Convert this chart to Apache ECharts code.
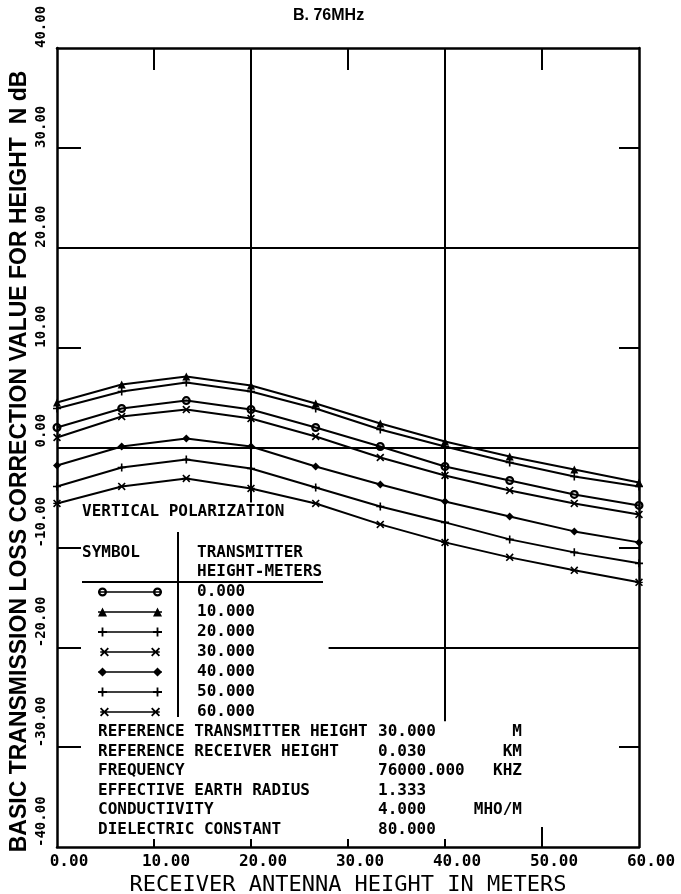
<!DOCTYPE html>
<html>
<head>
<meta charset="utf-8">
<script src="https://cdn.jsdelivr.net/npm/echarts@6/dist/echarts.min.js"></script>
<style>
  html, body { margin: 0; padding: 0; background: #fff; }
  #chart { width: 681px; height: 894px; }
</style>
</head>
<body>
<div id="chart"></div>
<script>
// Receiver antenna height (m) at which the correction was computed
const receiverHeights = [0, 6.67, 13.33, 20, 26.67, 33.33, 40, 46.67, 53.33, 60];

// Height correction (dB), one list per transmitter height
const corrTx0  = [2.0, 3.9, 4.7, 3.8, 2.0, 0.1, -1.9, -3.3, -4.7, -5.8];
const corrTx10 = [4.5, 6.3, 7.1, 6.2, 4.4, 2.4, 0.6, -0.9, -2.2, -3.5];
const corrTx20 = [3.9, 5.6, 6.5, 5.6, 3.9, 1.8, 0.1, -1.5, -2.9, -3.9];
const corrTx30 = [1.0, 3.1, 3.8, 2.9, 1.1, -1.0, -2.8, -4.3, -5.6, -6.7];
const corrTx40 = [-1.8, 0.1, 0.9, 0.1, -1.9, -3.7, -5.4, -6.9, -8.4, -9.5];
const corrTx50 = [-3.9, -2.0, -1.2, -2.1, -4.0, -5.9, -7.5, -9.2, -10.5, -11.6];
const corrTx60 = [-5.6, -3.9, -3.1, -4.1, -5.6, -7.7, -9.5, -11.0, -12.3, -13.5];

// Transmitter heights (legend labels)
const txHeightLabels = ['0.000', '10.000', '20.000', '30.000', '40.000', '50.000', '60.000'];

// Axis ticks
const xTickValues = [0, 10, 20, 30, 40, 50, 60];
const yTickValues = [-40, -30, -20, -10, 0, 10, 20, 30, 40];

// Reference conditions block
const refLabels = ['REFERENCE TRANSMITTER HEIGHT', 'REFERENCE RECEIVER HEIGHT', 'FREQUENCY',
                   'EFFECTIVE EARTH RADIUS', 'CONDUCTIVITY', 'DIELECTRIC CONSTANT'];
const refValues = ['30.000', '0.030', '76000.000', '1.333', '4.000', '80.000'];
const refUnits  = ['M', 'KM', 'KHZ', '', 'MHO/M', ''];

// Guide lines in data space: [x1, y1, x2, y2]
const guideLines = [
  [0, 20, 60, 20],
  [0, 0, 60, 0],
  [28, -20, 60, -20],
  [20, 40, 20, -5.5],
  [40, 40, 40, -27.4],
  [50, -40, 50, -38]
];

const INK = '#000';
const MONO = '"DejaVu Sans Mono"';

// ---- glyph builders (SVG path strings) ----
function poly(pts) {
  return 'M' + pts.map(p => p[0].toFixed(2) + ',' + p[1].toFixed(2)).join('L') + 'Z';
}
function plusPts(cx, cy, r, t) {
  return [[cx - t, cy - r], [cx + t, cy - r], [cx + t, cy - t], [cx + r, cy - t], [cx + r, cy + t],
          [cx + t, cy + t], [cx + t, cy + r], [cx - t, cy + r], [cx - t, cy + t], [cx - r, cy + t],
          [cx - r, cy - t], [cx - t, cy - t]];
}
function rotPts(pts, cx, cy, a) {
  const c = Math.cos(a), s = Math.sin(a);
  return pts.map(p => [cx + (p[0] - cx) * c - (p[1] - cy) * s, cy + (p[0] - cx) * s + (p[1] - cy) * c]);
}
function plusG(cx, cy, r) { return poly(plusPts(cx, cy, r, r * 0.2)); }
function crossG(cx, cy, r) { return poly(rotPts(plusPts(cx, cy, r * 1.3, r * 0.22), cx, cy, Math.PI / 4)); }
function ringG(cx, cy, R) {
  const r = R * 0.5;
  return `M${cx - R},${cy}A${R},${R} 0 1 1 ${cx + R},${cy}A${R},${R} 0 1 1 ${cx - R},${cy}Z` +
         `M${cx - r},${cy}A${r},${r} 0 1 0 ${cx + r},${cy}A${r},${r} 0 1 0 ${cx - r},${cy}Z`;
}
function triG(cx, cy, r) { return poly([[cx, cy - r], [cx + r, cy + r], [cx - r, cy + r]]); }
function diaG(cx, cy, r) { return poly([[cx, cy - r], [cx + r, cy], [cx, cy + r], [cx - r, cy]]); }
function plusDiaG(cx, cy, r) { return plusG(cx, cy, r) + diaG(cx, cy, r * 0.55); }
function starG(cx, cy, r) { return crossG(cx, cy, r) + poly([[cx - r, cy - r * 0.18], [cx + r, cy - r * 0.18], [cx + r, cy + r * 0.18], [cx - r, cy + r * 0.18]]); }

const glyphs = [ringG, triG, plusG, crossG, diaG, plusDiaG, starG];
const seriesData = [corrTx0, corrTx10, corrTx20, corrTx30, corrTx40, corrTx50, corrTx60];

const ICON_W = 64, ICON_H = 9;
function legendIcon(g) {
  const line = poly([[0, 3.8], [ICON_W, 3.8], [ICON_W, 5.2], [0, 5.2]]);
  return 'path://' + line + g(4.5, 4.5, 4.5) + g(ICON_W - 4.5, 4.5, 4.5);
}
function markerSymbol(g) { return 'path://' + g(5, 5, 5); }

const chart = echarts.init(document.getElementById('chart'), null, { renderer: 'canvas' });

const curveSeries = seriesData.map((vals, i) => ({
  name: txHeightLabels[i],
  type: 'line',
  data: receiverHeights.map((x, k) => [x, vals[k]]),
  symbol: markerSymbol(glyphs[i]),
  symbolSize: i === 0 ? 9 : 8,
  showSymbol: true,
  lineStyle: { color: INK, width: 2 },
  itemStyle: { color: INK },
  z: 3
}));

const guideSeries = {
  name: 'guides',
  type: 'line',
  data: [],
  silent: true,
  markLine: {
    silent: true,
    symbol: ['none', 'none'],
    label: { show: false },
    lineStyle: { color: INK, width: 2, type: 'solid' },
    emphasis: { disabled: true },
    data: guideLines.map(l => [{ coord: [l[0], l[1]] }, { coord: [l[2], l[3]] }])
  }
};

const textStyleMono = (x, y, text, align) => ({
  type: 'text',
  x: x, y: y,
  style: { text: text, font: 'bold 16px ' + MONO, fill: INK, align: align || 'left', verticalAlign: 'middle' }
});

const graphics = [
  textStyleMono(82, 512, 'VERTICAL POLARIZATION'),
  textStyleMono(82, 553, 'SYMBOL'),
  textStyleMono(197, 553, 'TRANSMITTER'),
  textStyleMono(197, 572, 'HEIGHT-METERS'),
  { type: 'line', shape: { x1: 82, y1: 582, x2: 323, y2: 582 }, style: { stroke: INK, lineWidth: 2 } },
  { type: 'line', shape: { x1: 178, y1: 532, x2: 178, y2: 717 }, style: { stroke: INK, lineWidth: 2 } }
];
refLabels.forEach((t, i) => {
  const y = 732 + i * 19.5;
  graphics.push(textStyleMono(98, y, t));
  graphics.push(textStyleMono(378, y, refValues[i]));
  if (refUnits[i]) graphics.push(textStyleMono(522, y, refUnits[i], 'right'));
});

const option = {
  animation: false,
  backgroundColor: '#fff',
  title: {
    text: 'B. 76MHz',
    left: 288,
    top: 3,
    textStyle: { fontFamily: '"Liberation Sans", Arial', fontWeight: 'bold', fontSize: 16, color: INK }
  },
  grid: { left: 57, right: 42, top: 48, bottom: 47, containLabel: false, outerBoundsMode: 'none' },
  legend: {
    data: txHeightLabels.map((n, i) => ({ name: n, icon: legendIcon(glyphs[i]) })),
    orient: 'vertical',
    left: 98,
    top: 582,
    padding: 0,
    itemWidth: ICON_W,
    itemHeight: ICON_H,
    itemGap: 0,
    selectedMode: false,
    textStyle: { fontFamily: MONO, fontWeight: 'bold', fontSize: 16, color: INK, lineHeight: 20, padding: [0, 0, 0, 30] }
  },
  xAxis: [
    {
      type: 'value', position: 'bottom', min: 0, max: 60, interval: 10,
      name: 'RECEIVER ANTENNA HEIGHT IN METERS',
      nameLocation: 'middle', nameGap: 27, nameMoveOverlap: false,
      nameTextStyle: { fontFamily: MONO, fontSize: 22, color: INK },
      axisLine: { show: true, onZero: false, lineStyle: { color: INK, width: 2.5 } },
      axisTick: { show: true, inside: true, length: 8, customValues: [10, 20, 30, 40], lineStyle: { color: INK, width: 2 } },
      axisLabel: {
        show: true, margin: 7, color: INK, align: 'center',
        customValues: xTickValues,
        formatter: v => '{p|}{t|' + v.toFixed(2) + '}',
        rich: {
          p: { width: 24 },
          t: { fontFamily: MONO, fontWeight: 'bold', fontSize: 16, color: INK }
        }
      },
      splitLine: { show: false }
    },
    {
      type: 'value', position: 'top', min: 0, max: 60, interval: 10,
      axisLine: { show: true, onZero: false, lineStyle: { color: INK, width: 2.5 } },
      axisTick: { show: true, inside: true, length: 22, customValues: [10, 30, 50], lineStyle: { color: INK, width: 2 } },
      axisLabel: { show: false },
      splitLine: { show: false }
    }
  ],
  yAxis: [
    {
      type: 'value', position: 'left', min: -40, max: 40, interval: 10,
      name: 'BASIC TRANSMISSION LOSS CORRECTION VALUE FOR HEIGHT  N dB',
      nameLocation: 'middle', nameRotate: 90, nameGap: 26, nameMoveOverlap: false,
      nameTextStyle: { fontFamily: '"Liberation Sans", Arial', fontWeight: 'bold', fontSize: 23, color: INK, padding: [0, 28, 0, 0] },
      axisLine: { show: true, onZero: false, lineStyle: { color: INK, width: 2.5 } },
      axisTick: { show: true, inside: true, length: 24, customValues: [30, 10, -10, -20, -30], lineStyle: { color: INK, width: 2 } },
      axisLabel: {
        show: true, rotate: 90, align: 'left', verticalAlign: 'middle', margin: 16,
        customValues: yTickValues,
        fontFamily: MONO, fontWeight: 'bold', fontSize: 14, color: INK,
        formatter: v => v.toFixed(2)
      },
      splitLine: { show: false }
    },
    {
      type: 'value', position: 'right', min: -40, max: 40, interval: 10,
      axisLine: { show: true, onZero: false, lineStyle: { color: INK, width: 2.5 } },
      axisTick: { show: true, inside: true, length: 20, customValues: [30, 10, -10, -30], lineStyle: { color: INK, width: 2 } },
      axisLabel: { show: false },
      splitLine: { show: false }
    }
  ],
  series: curveSeries.concat([guideSeries]),
  graphic: graphics
};

chart.setOption(option);
</script>
</body>
</html>
